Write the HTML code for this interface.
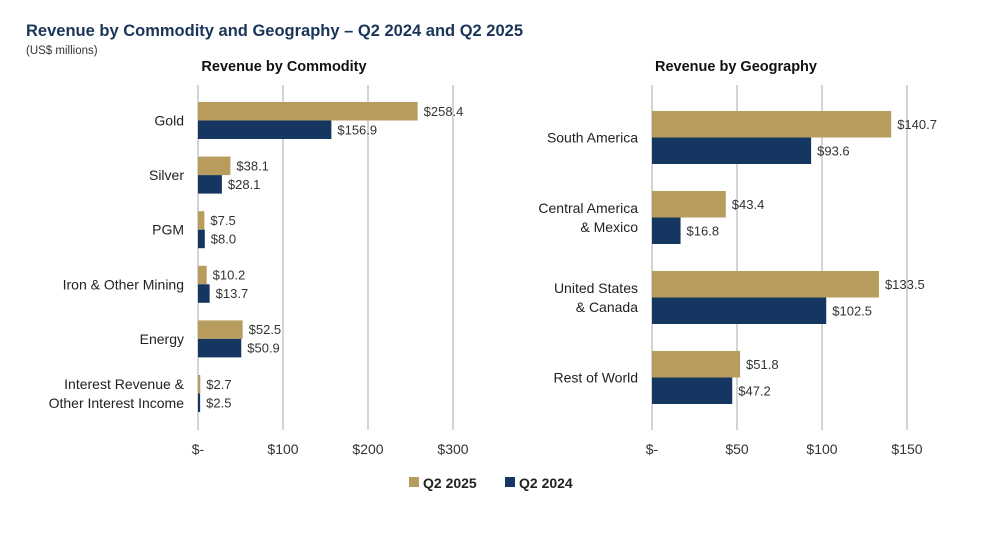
<!DOCTYPE html>
<html><head><meta charset="utf-8"><style>
body{margin:0;background:#fff;width:991px;height:529px;overflow:hidden;font-family:"Liberation Sans",Arial,sans-serif}
</style></head><body>
<svg id="c" width="991" height="529" xmlns="http://www.w3.org/2000/svg" font-family="Liberation Sans, Arial, sans-serif">
<text x="26" y="36" font-size="16.5" font-weight="bold" fill="#1a3558">Revenue by Commodity and Geography – Q2 2024 and Q2 2025</text>
<text x="26" y="54" font-size="11.5" fill="#333">(US$ millions)</text>
<text x="284" y="71" font-size="14.5" font-weight="bold" fill="#111" text-anchor="middle">Revenue by Commodity</text>
<text x="736" y="71" font-size="14.5" font-weight="bold" fill="#111" text-anchor="middle">Revenue by Geography</text>
<rect x="409" y="477" width="10" height="10" fill="#b89c5e"/>
<text x="423" y="488" font-size="14" font-weight="bold" fill="#222">Q2 2025</text>
<rect x="505" y="477" width="10" height="10" fill="#143660"/>
<text x="519" y="488" font-size="14" font-weight="bold" fill="#222">Q2 2024</text>
</svg>
<script>
const commodityCats=[["Gold"],["Silver"],["PGM"],["Iron & Other Mining"],["Energy"],["Interest Revenue &","Other Interest Income"]];
const commodity2025=[258.4,38.1,7.5,10.2,52.5,2.7];
const commodity2024=[156.9,28.1,8.0,13.7,50.9,2.5];
const commodityTicks=[0,100,200,300];
const geoCats=[["South America"],["Central America","& Mexico"],["United States","& Canada"],["Rest of World"]];
const geo2025=[140.7,43.4,133.5,51.8];
const geo2024=[93.6,16.8,102.5,47.2];
const geoTicks=[0,50,100,150];
const NS="http://www.w3.org/2000/svg",svg=document.getElementById('c');
function mk(t,a,txt){const e=document.createElementNS(NS,t);for(const k in a)e.setAttribute(k,a[k]);if(txt!==undefined)e.textContent=txt;svg.appendChild(e);return e;}
function fmt(v){return v===0?"$-":"$"+v;}
function draw(o){
  const x=v=>o.x0+v*o.k;
  o.ticks.forEach(t=>{
    const g=mk('line',{x1:x(t),x2:x(t),y1:o.top,y2:o.bot,stroke:'#d4d4d4','stroke-width':2});
    
    
    const l=mk('text',{x:x(t),y:o.bot+24,'font-size':14,fill:'#333','text-anchor':'middle'},fmt(t));
    
    
  });
  o.cats.forEach((c,i)=>{
    const y=o.y0+i*o.step;
    [[o.a[i],'#b89c5e',y,'2025'],[o.b[i],'#143660',y+o.h,'2024']].forEach(([v,col,yy,s])=>{
      const r=mk('rect',{x:o.x0,y:yy,width:v*o.k,height:o.h,fill:col});
      
      
      const t=mk('text',{x:x(v)+6,y:yy+o.h/2+4.5,'font-size':13,fill:'#333'},"$"+v.toFixed(1));
      
      
    });
    const cy=y+o.h;
    c.forEach((ln,j)=>{
      const t=mk('text',{x:o.x0-14,y:cy+5+(j-(c.length-1)/2)*19,'font-size':14,fill:'#222','text-anchor':'end'},ln);
      
      
    });
  });
}
draw({id:'commodity',cats:commodityCats,a:commodity2025,b:commodity2024,ticks:commodityTicks,x0:198,k:0.85,top:85,bot:430,y0:102,step:54.6,h:18.5});
draw({id:'geography',cats:geoCats,a:geo2025,b:geo2024,ticks:geoTicks,x0:652,k:1.7,top:85,bot:430,y0:111,step:80,h:26.5});
</script>
</body></html>
